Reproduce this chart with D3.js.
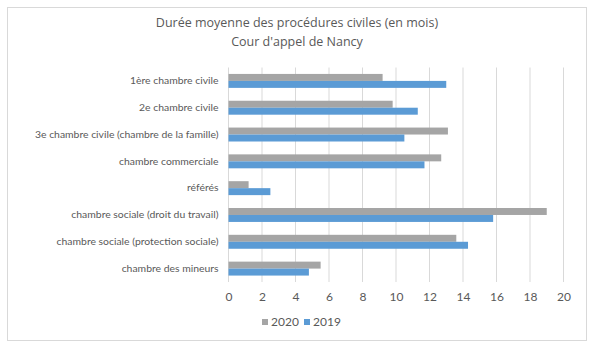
<!DOCTYPE html>
<html><head><meta charset="utf-8">
<script src="https://cdn.jsdelivr.net/npm/d3@7/dist/d3.min.js"></script>
<style>body{margin:0;background:#fff;} text{font-family:"Open Sans","DejaVu Sans",sans-serif;} .lato{font-family:Lato,"Open Sans",sans-serif;}</style>
</head><body>
<svg id="c" width="594" height="356"></svg>
<script>
const categories = ["1ère chambre civile","2e chambre civile","3e chambre civile (chambre de la famille)","chambre commerciale","référés","chambre sociale (droit du travail)","chambre sociale (protection sociale)","chambre des mineurs"];
const values2020 = [9.2, 9.8, 13.1, 12.7, 1.2, 19.0, 13.6, 5.5];
const values2019 = [13.0, 11.3, 10.5, 11.7, 2.5, 15.8, 14.3, 4.8];
const seriesNames = ["2020","2019"];
const seriesColors = ["#a5a5a5","#5b9bd5"];
const xTicks = [0,2,4,6,8,10,12,14,16,18,20];
const titleLines = ["Durée moyenne des procédures civiles (en mois)","Cour d'appel de Nancy"];

const svg = d3.select("#c");
svg.append("rect").attr("x",7.5).attr("y",7.5).attr("width",579).attr("height",333)
  .attr("fill","#fff").attr("stroke","#d9d9d9");

const plotTop = 67.5, plotBottom = 282;
const x = d3.scaleLinear().domain([0,20]).range([228.5,563.5]);
const y = d3.scaleBand().domain(categories).range([plotTop,plotBottom]).paddingInner(0.48).paddingOuter(0.24);
const y1 = d3.scaleBand().domain(seriesNames).range([0,y.bandwidth()]);

// gridlines
svg.append("g").selectAll("line").data(xTicks).join("line")
  .attr("x1",d=>x(d)).attr("x2",d=>x(d)).attr("y1",plotTop).attr("y2",plotBottom)
  .attr("stroke","#d9d9d9").attr("stroke-width",1);

const data = categories.map((c,i)=>({c, v:[values2020[i], values2019[i]]}));
const g = svg.append("g");
data.forEach(d=>{
  seriesNames.forEach((s,j)=>{
    g.append("rect").attr("x",x(0)).attr("y",y(d.c)+y1(s))
      .attr("width",x(d.v[j])-x(0)).attr("height",y1.bandwidth())
      .attr("fill",seriesColors[j]);
  });
});

// x axis
const xa = svg.append("g").attr("transform",`translate(0,${plotBottom})`)
  .call(d3.axisBottom(x).tickValues(xTicks).tickSize(0).tickPadding(10));
xa.select(".domain").remove();
xa.selectAll("text").attr("fill","#595959").attr("class","lato").style("font-size","12px");

// y axis labels
const ya = svg.append("g").attr("transform","translate(228.5,0)")
  .call(d3.axisLeft(y).tickSize(0).tickPadding(10));
ya.select(".domain").remove();
ya.selectAll("text").attr("fill","#595959").attr("class","lato").style("font-size","10.4px");

// title
svg.append("g").selectAll("text").data(titleLines).join("text")
  .attr("x",297).attr("y",(d,i)=>27+i*19).attr("text-anchor","middle")
  .attr("fill","#595959").style("font-size","12.5px").text(d=>d);

// legend
const leg = svg.append("g");
const lx = [262, 304];
seriesNames.forEach((s,j)=>{
  leg.append("rect").attr("x",lx[j]).attr("y",319).attr("width",6).attr("height",6).attr("fill",seriesColors[j]);
  leg.append("text").attr("x",lx[j]+9).attr("y",326).attr("fill","#595959").attr("class","lato").style("font-size","12px").text(s);
});
</script>
</body></html>
